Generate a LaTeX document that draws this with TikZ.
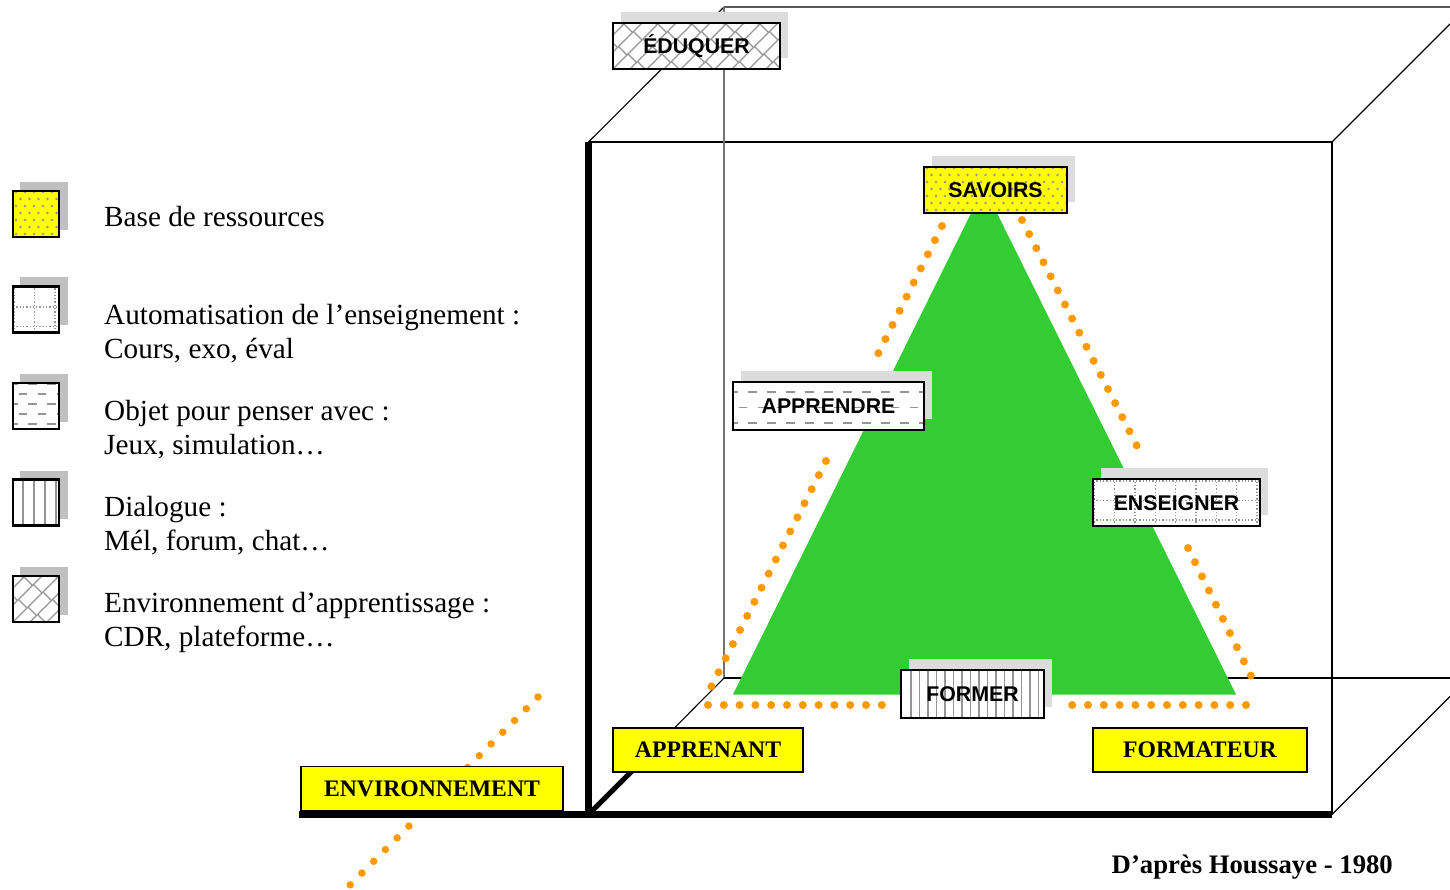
\documentclass[tikz,border=0pt]{standalone}
\usepackage{fontspec}
\setmainfont{Liberation Serif}
\setsansfont{Liberation Sans}

\definecolor{tri}{HTML}{33CC33}
\definecolor{dotc}{HTML}{FF9900}
\definecolor{ylw}{HTML}{FFFF00}
\definecolor{shd}{HTML}{DCDCDC}
\definecolor{legshd}{HTML}{C0C0C0}
\definecolor{patc}{HTML}{959595}

\tikzset{
  edge/.style={line width=1.1pt, black},
  backedge/.style={line width=1.3pt, black!55},
  axis/.style={line width=7pt, black, line cap=butt},
  diagaxis/.style={line width=5pt, black},
  orangedots/.style={dotc, line width=8pt, line cap=round, dash pattern=on 0pt off 15.8pt},
  lbl/.style={draw, line width=2.6pt, fill=white, inner sep=0pt,
    text height=15pt, text depth=0pt,
    font=\sffamily\bfseries\fontsize{21.3}{24}\selectfont},
  ylbl/.style={draw, line width=1.5pt, fill=ylw, inner sep=0pt,
    text height=15.5pt, text depth=0pt,
    font=\rmfamily\bfseries\fontsize{23.7}{26}\selectfont},
  legbox/.style={draw, line width=2.2pt, fill=white, inner sep=0pt,
    minimum width=46pt, minimum height=46pt},
  legtext/.style={anchor=base west, inner sep=0pt,
    font=\rmfamily\fontsize{29.2}{34}\selectfont},
  % yellow ground with a staggered grid of grey dots
  pdots/.style={fill=ylw, path picture={
    \coordinate (sw) at (path picture bounding box.south west);
    \foreach \j in {0,...,8}{\foreach \i in {0,...,20}{
      \fill[patc] ([xshift={\i*9pt+mod(\j,2)*4.5pt+3pt}, yshift={\j*7pt+3pt}]sw) circle (1.4pt);}}
  }},
  % dotted square grid
  pgrid/.style={path picture={
    \coordinate (sw) at (path picture bounding box.south west);
    \foreach \i in {0,...,12}
      \draw[patc, line width=1.3pt, dash pattern=on 1.3pt off 2pt] ([xshift={\i*20.3pt+1.5pt}]sw) -- ++(0,-70);
    \foreach \j in {0,...,3}
      \draw[patc, line width=1.3pt, dash pattern=on 1.3pt off 2pt] ([yshift={\j*19.5pt+6pt}]sw) -- ++(300,0);
  }},
  % staggered rows of short horizontal dashes
  pdash/.style 2 args={path picture={
    \coordinate (sw) at (path picture bounding box.south west);
    \foreach \j in {0,...,5}
      \draw[patc, line width=1.9pt, dash pattern=on 8.5pt off 10.5pt]
        ([xshift={-mod(\j,2)*9.5pt-4pt}, yshift={\j*#1pt+#2pt}]sw) -- ++(320,0);
  }},
  % vertical hatching
  pvert/.style={path picture={
    \coordinate (sw) at (path picture bounding box.south west);
    \foreach \i in {0,...,24}
      \draw[patc, line width=1.8pt] ([xshift={\i*#1pt+10pt}]sw) -- ++(0,-70);
  }},
  % diagonal brick
  pbrick/.style={path picture={
    \coordinate (sw) at (path picture bounding box.south west);
    \foreach \k in {-5,...,12}{
      \draw[patc, line width=1.3pt] ([xshift={\k*17pt}]sw) -- ++(80,-80);
      \foreach \m in {-1,...,4}
        \draw[patc, line width=1.3pt]
          ([xshift={\k*17pt+\m*15pt+mod(\k+10,2)*7.5pt}, yshift={\m*15pt+mod(\k+10,2)*7.5pt}]sw) -- ++(8.5,8.5);
    }
  }}
}

% labelled box with a light grey shadow up and to the right
\newcommand{\shadowbox}[7]{%
  \fill[shd] (#2-#4/2+8,#3-#5/2-11) rectangle (#2+#4/2+8,#3+#5/2-11);
  \node[lbl, #6, minimum width=#4pt, minimum height=#5pt] (#1) at (#2,#3) {#7};
}
% legend swatch with its shadow
\newcommand{\legswatch}[3]{%
  \fill[legshd] (36-24+8,#2-24-8) rectangle (36+24+8,#2+24-8);
  \node[legbox, #3] (#1) at (36,#2) {};
}

\begin{document}
\begin{tikzpicture}[x=1pt, y=-1pt]
\useasboundingbox (0,0) rectangle (1450,890);

% cube corners
\coordinate (ftl) at (588.5,142);
\coordinate (ftr) at (1332,142);
\coordinate (fbr) at (1332,814.5);
\coordinate (fbl) at (588.5,814.5);
\coordinate (btl) at (724,7);
\coordinate (bbl) at (724,678);
\coordinate (btr) at (1450,7);
\coordinate (bbr) at (1450,678);
\coordinate (dtr) at (1450,24);
\coordinate (dbr) at (1450,696.5);
\coordinate (axbot) at (588.5,818);
\coordinate (axend) at (299,814.5);
\coordinate (diagin) at (648.5,754.5);

% cube edges
\draw[edge] (ftl) -- (ftr) -- (fbr);
\draw[edge] (ftl) -- (btl) -- (btr);
\draw[backedge] (btl) -- (bbl);
\draw[edge] (bbl) -- (bbr);
\draw[edge] (ftr) -- (dtr);
\draw[edge] (fbr) -- (dbr);
\draw[edge] (fbl) -- (bbl);

% pedagogical triangle
\fill[tri] (733,694.5) -- (984,187) -- (1236,694.5) -- cycle;

% dotted outline of the triangle
\coordinate (ula) at (942,226);  \coordinate (ulb) at (876,358);
\coordinate (lla) at (826,461);  \coordinate (llb) at (708,693);
\coordinate (ura) at (1022,220); \coordinate (urb) at (1142,456);
\coordinate (lra) at (1188,548); \coordinate (lrb) at (1254,682);
\coordinate (bla) at (708,705);  \coordinate (blb) at (892,705);
\coordinate (bra) at (1246,705); \coordinate (brb) at (1062,705);
\draw[orangedots] (ula) -- (ulb);
\draw[orangedots] (lla) -- (llb);
\draw[orangedots] (ura) -- (urb);
\draw[orangedots] (lra) -- (lrb);
\draw[orangedots] (bla) -- (blb);
\draw[orangedots] (bra) -- (brb);

% environment diagonal
\coordinate (enva) at (538,697);
\coordinate (envb) at (350,885);
\draw[orangedots, line width=7.5pt, dash pattern=on 0pt off 16.6pt] (enva) -- (envb);

% axes
\draw[axis] (ftl) -- (axbot);
\draw[axis] (axend) -- (fbr);
\draw[diagaxis] (fbl) -- (diagin);

% pole boxes
\shadowbox{eduquer}{696.5}{46}{167}{46}{pbrick}{ÉDUQUER}
\shadowbox{savoirs}{995.5}{190}{143}{46}{pdots}{SAVOIRS}
\shadowbox{apprendre}{828.5}{406}{191}{48}{pdash={15.5}{7}}{APPRENDRE}
\shadowbox{enseigner}{1176.5}{502.5}{167}{47}{pgrid}{ENSEIGNER}
\shadowbox{former}{972.5}{694}{143}{48}{pvert=8.5}{FORMER}

\node[ylbl, minimum width=190pt, minimum height=44pt] (apprenant) at (708,750) {APPRENANT};
\node[ylbl, minimum width=214pt, minimum height=44pt] (formateur) at (1200,750) {FORMATEUR};
\node[ylbl, minimum width=262pt, minimum height=44pt] (environnement) at (432,788.5) {ENVIRONNEMENT};

% legend
\legswatch{sw1}{214}{pdots}
\legswatch{sw2}{309.5}{pgrid}
\legswatch{sw3}{406}{pdash={10}{5}}
\legswatch{sw4}{502.5}{pvert=11}
\legswatch{sw5}{599}{pbrick}

\node[legtext] (t1) at (104,227) {Base de ressources};
\node[legtext] (t2a) at (104,324) {Automatisation de l’enseignement :};
\node[legtext] (t2b) at (104,358) {Cours, exo, éval};
\node[legtext] (t3a) at (104,420) {Objet pour penser avec :};
\node[legtext] (t3b) at (104,454) {Jeux, simulation…};
\node[legtext] (t4a) at (104,516) {Dialogue :};
\node[legtext] (t4b) at (104,550) {Mél, forum, chat…};
\node[legtext] (t5a) at (104,612) {Environnement d’apprentissage :};
\node[legtext] (t5b) at (104,646) {CDR, plateforme…};

% source
\node[anchor=base east, inner sep=0pt, font=\rmfamily\bfseries\fontsize{26.7}{30}\selectfont] (src) at (1393,873) {D’après Houssaye - 1980};
\end{tikzpicture}
\end{document}
